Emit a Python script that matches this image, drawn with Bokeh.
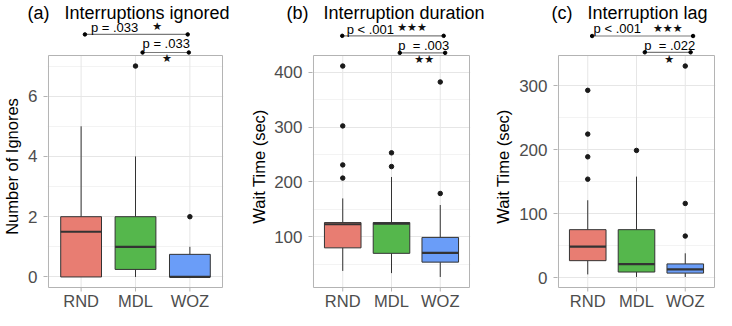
from bokeh.plotting import figure
from bokeh.layouts import row
from bokeh.models import Range1d, FixedTicker, Title
from bokeh.core.properties import value
from bokeh.embed import file_html
from bokeh.resources import INLINE

categories = ["RND", "MDL", "WOZ"]
fill_colors = ["#E87D72", "#55B74C", "#6A9DF8"]

# (a) Interruptions ignored
ign_lower = [0, 0, 0]
ign_q1 = [0, 0.25, 0]
ign_med = [1.5, 1, 0]
ign_q3 = [2, 2, 0.75]
ign_upper = [5, 4, 1]
ign_out_cat = ["MDL", "WOZ"]
ign_out_val = [7, 2]
ign_ticks = [0, 2, 4, 6]
ign_minor = [1, 3, 5, 7]

# (b) Interruption duration
dur_lower = [38, 34, 27]
dur_q1 = [80, 70, 54]
dur_med = [123, 124, 71]
dur_q3 = [126, 126, 99]
dur_upper = [170, 209, 158]
dur_out_cat = ["RND", "RND", "RND", "RND", "MDL", "MDL", "WOZ", "WOZ"]
dur_out_val = [411, 302, 231, 207, 253, 228, 382, 179]
dur_ticks = [100, 200, 300, 400]
dur_minor = [50, 150, 250, 350]

# (c) Interruption lag
lag_lower = [5, 1, 1]
lag_q1 = [26.5, 8.7, 7]
lag_med = [48.5, 21, 13]
lag_q3 = [75, 75, 21.4]
lag_upper = [121, 158, 38]
lag_out_cat = ["RND", "RND", "RND", "RND", "MDL", "WOZ", "WOZ", "WOZ"]
lag_out_val = [293, 224.5, 189, 154, 199, 331, 116, 65]
lag_ticks = [0, 100, 200, 300]
lag_minor = [50, 150, 250]

# significance annotations
ign_sig_p = ["p = .033", "p = .033"]
ign_sig_stars = ["\u2605", "\u2605"]
dur_sig_p = ["p < .001", "p\u00a0 = .003"]
dur_sig_stars = ["\u2605\u2605\u2605", "\u2605\u2605"]
lag_sig_p = ["p < .001", "p\u00a0 = .022"]
lag_sig_stars = ["\u2605\u2605\u2605", "\u2605"]

FONT = "Liberation Sans"
FIG_H = 310
FRAME_H = 288.0      # measured drawing-area height
TOP_PX = 33.0        # annotation band above the panel box
BOT_PX = 23.0        # band below the panel box for category labels
TXT_SHIFT = 4.0      # alphabetic text renders this many px low


def panel(title, title_offset, ylabel, width, bl, br, ylab_standoff, ytick_standoff,
          lower, q1, med, q3, upper, out_cat, out_val, ticks, minor,
          sig_p, sig_stars, br_x0, br_x1, br_y, p_x, p_y, st_x, st_y):
    xs = [categories.index(c) + 1 for c in categories]
    allv = lower + upper + out_val
    dmin, dmax = min(allv), max(allv)
    span = dmax - dmin
    lo = dmin - 0.05 * span
    hi = dmax + 0.05 * span
    u = (hi - lo) / (FRAME_H - TOP_PX - BOT_PX)
    frame_w = width - bl - br
    xpx = 3.2 / (frame_w - 2)
    p = figure(width=width, height=FIG_H, output_backend="svg", toolbar_location=None,
               x_range=Range1d(0.4 - xpx, 3.6 + xpx),
               y_range=Range1d(lo - BOT_PX * u, hi + TOP_PX * u),
               min_border_left=bl, min_border_right=br, min_border_top=0,
               min_border_bottom=0)
    p.add_layout(Title(text=title, align="left", offset=title_offset, text_font=FONT,
                       text_font_size="18px", text_font_style="normal",
                       text_color="#000000", standoff=0), "above")
    p.outline_line_color = None
    p.background_fill_color = "white"
    p.border_fill_color = "white"

    # grid
    p.xgrid.visible = False
    p.ygrid.grid_line_color = "#E6E6E6"
    p.ygrid.minor_grid_line_color = "#F3F3F3"
    p.segment(x0=xs, y0=[lo] * 3, x1=xs, y1=[hi] * 3, line_color="#E6E6E6", line_width=1)

    # category axis (drawn in the band below the panel box)
    p.xaxis.visible = False
    p.segment(x0=xs, y0=[lo] * 3, x1=xs, y1=[lo - 4 * u] * 3, line_color="#B3B3B3",
              line_width=1)
    p.text(x=xs, y=[lo - (17.5 - TXT_SHIFT) * u] * 3, text=categories,
           text_font=value(FONT), text_font_size="16.5px", text_color="#4D4D4D",
           text_align="center", text_baseline="alphabetic")

    # value axis
    yax = p.yaxis[0]
    yax.ticker = FixedTicker(ticks=ticks, minor_ticks=minor)
    yax.axis_line_color = None
    yax.major_tick_line_color = "#B3B3B3"
    yax.major_tick_out = 4
    yax.major_tick_in = 0
    yax.minor_tick_line_color = None
    yax.minor_tick_out = 0
    yax.minor_tick_in = 0
    yax.major_label_text_font = FONT
    yax.major_label_text_font_size = "17px"
    yax.major_label_text_color = "#4D4D4D"
    yax.major_label_standoff = ytick_standoff
    yax.axis_label = ylabel
    yax.axis_label_text_font = FONT
    yax.axis_label_text_font_size = "16.5px"
    yax.axis_label_text_font_style = "normal"
    yax.axis_label_text_color = "#000000"
    yax.axis_label_standoff = ylab_standoff

    # whiskers
    p.segment(x0=xs, y0=q3, x1=xs, y1=upper, line_color="#333333", line_width=1)
    p.segment(x0=xs, y0=q1, x1=xs, y1=lower, line_color="#333333", line_width=1)
    # boxes
    p.quad(left=[x - 0.375 for x in xs], right=[x + 0.375 for x in xs],
           bottom=q1, top=q3, fill_color=fill_colors, line_color="#333333", line_width=1)
    p.segment(x0=[x - 0.375 for x in xs], y0=med, x1=[x + 0.375 for x in xs], y1=med,
              line_color="#333333", line_width=2.2)
    # outliers
    ox = [categories.index(c) + 1 for c in out_cat]
    p.scatter(x=ox, y=out_val, size=4.5, fill_color="#1A1A1A", line_color="#1A1A1A")

    # panel border
    p.quad(left=[0.4], right=[3.6], bottom=[lo], top=[hi], fill_color=None,
           line_color="#B3B3B3", line_width=1)

    # significance brackets
    p.segment(x0=br_x0, y0=br_y, x1=br_x1, y1=br_y, line_color="#7A7A7A", line_width=1.2)
    p.scatter(x=br_x0 + br_x1, y=br_y + br_y, size=3.5, fill_color="black", line_color="black")
    p.text(x=p_x, y=[v + TXT_SHIFT * u for v in p_y], text=sig_p, text_font=value(FONT),
           text_font_size="13px", text_align="left", text_baseline="alphabetic",
           text_color="black")
    p.text(x=st_x, y=st_y, text=sig_stars, text_font=value("DejaVu Sans"),
           text_font_size="11px", text_align="center", text_baseline="middle",
           text_color="#111111")
    return p


pa = panel("(a)\u00a0\u00a0\u00a0Interruptions ignored", -20, "Number of Ignores",
           247, 43, 24, 4, 6,
           ign_lower, ign_q1, ign_med, ign_q3, ign_upper, ign_out_cat, ign_out_val,
           ign_ticks, ign_minor, ign_sig_p, ign_sig_stars,
           [1.07, 2.13], [2.96, 2.98], [8.05, 7.45],
           [1.18, 2.13], [8.15, 7.62], [2.4, 2.58], [8.32, 7.26])

pb = panel("(b)\u00a0\u00a0\u00a0Interruption duration", -26, "Wait Time (sec)",
           244, 61, 21, 3, 6,
           dur_lower, dur_q1, dur_med, dur_q3, dur_upper, dur_out_cat, dur_out_val,
           dur_ticks, dur_minor, dur_sig_p, dur_sig_stars,
           [0.99, 2.17], [3.07, 3.1], [466, 435],
           [1.08, 2.14], [471, 441], [2.42, 2.67], [482, 423])

pc = panel("(c)\u00a0\u00a0\u00a0Interruption lag", -6, "Wait Time (sec)",
           225, 62, 1, 4, 6,
           lag_lower, lag_q1, lag_med, lag_q3, lag_upper, lag_out_cat, lag_out_val,
           lag_ticks, lag_minor, lag_sig_p, lag_sig_stars,
           [1.09, 2.17], [3.16, 3.11], [378, 352.5],
           [1.12, 2.16], [383, 357], [2.64, 2.67], [390, 341])

layout = row(pa, pb, pc)
open("out.html", "w").write(file_html(layout, INLINE))
